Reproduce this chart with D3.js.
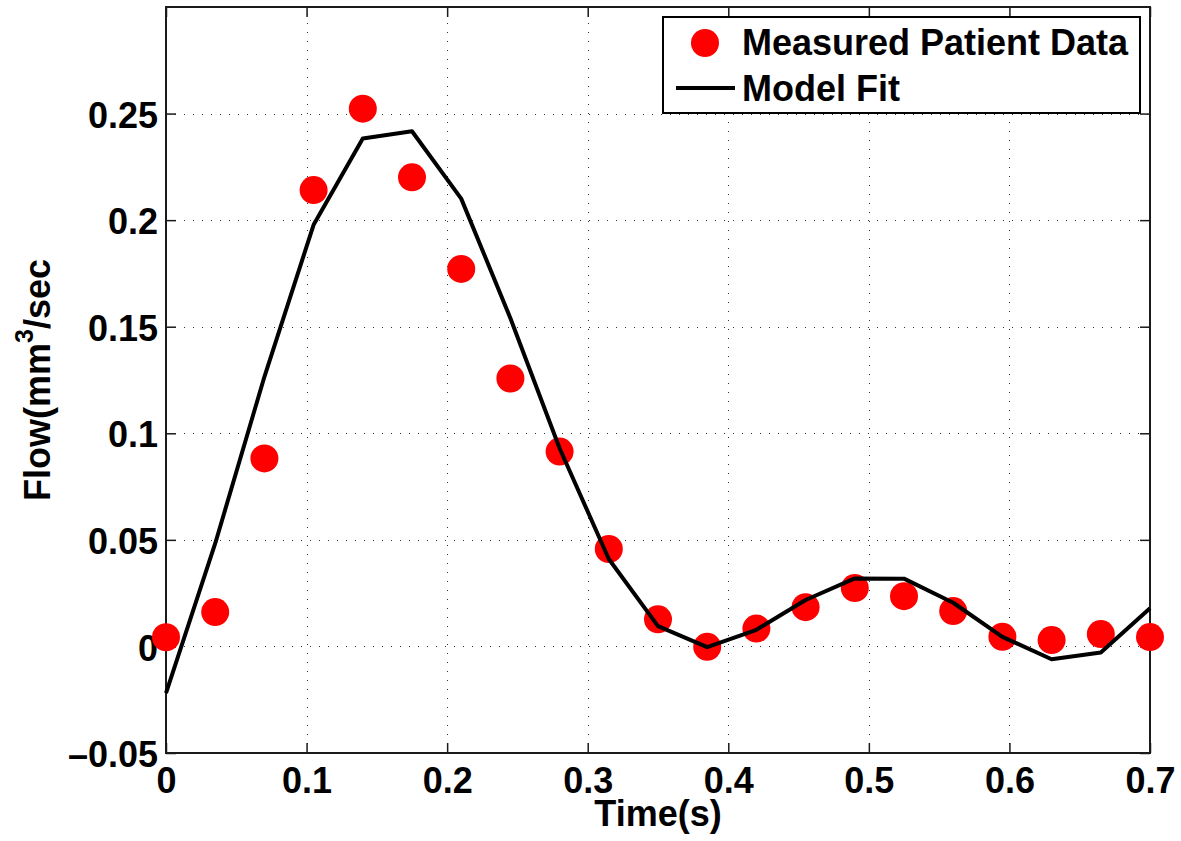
<!DOCTYPE html>
<html>
<head>
<meta charset="utf-8">
<script src="https://cdn.jsdelivr.net/npm/d3@7"></script>
<style>
  body { margin: 0; background: #fff; }
  svg { display: block; }
  text { font-family: "Liberation Sans", Arial, Helvetica, sans-serif; font-weight: bold; fill: #000; }
</style>
</head>
<body>
<div id="chart"></div>
<script>
const time = [0, 0.035, 0.07, 0.105, 0.14, 0.175, 0.21, 0.245, 0.28, 0.315, 0.35,
              0.385, 0.42, 0.455, 0.49, 0.525, 0.56, 0.595, 0.63, 0.665, 0.7];
const measured = [0.0043, 0.0161, 0.0882, 0.2141, 0.2523, 0.2201, 0.1771, 0.1257, 0.0914, 0.0457, 0.0127,
                  -0.0002, 0.0084, 0.0184, 0.0274, 0.0236, 0.0166, 0.0045, 0.0030, 0.0058, 0.0044];
const model = [-0.0219, 0.0483, 0.1265, 0.1978, 0.2383, 0.2417, 0.2101, 0.1540, 0.0930, 0.0410, 0.0095,
               -0.0003, 0.0078, 0.0218, 0.0319, 0.0318, 0.0205, 0.0045, -0.0060, -0.0028, 0.0179];

const xTicks = [0, 0.1, 0.2, 0.3, 0.4, 0.5, 0.6, 0.7];
const xTickLabels = ["0", "0.1", "0.2", "0.3", "0.4", "0.5", "0.6", "0.7"];
const yTicks = [-0.05, 0, 0.05, 0.1, 0.15, 0.2, 0.25];
const yTickLabels = ["\u20130.05", "0", "0.05", "0.1", "0.15", "0.2", "0.25"];
const legendLabels = ["Measured Patient Data", "Model Fit"];

const width = 1181;
const height = 841;
const margin = { top: 7, right: 31, bottom: 88, left: 166 };
const fontSize = 36;

const svg = d3.select("#chart")
    .append("svg")
    .attr("width", width)
    .attr("height", height);

const x = d3.scaleLinear()
    .domain([0, 0.7])
    .range([margin.left, width - margin.right]);

const y = d3.scaleLinear()
    .domain([-0.05, 0.3])
    .range([height - margin.bottom, margin.top]);

// grid
const grid = svg.append("g")
    .attr("stroke", "#333")
    .attr("stroke-width", 1)
    .attr("stroke-dasharray", "1,8");

grid.selectAll(".vgrid")
    .data(xTicks.slice(1, -1))
    .enter()
    .append("line")
    .attr("x1", d => Math.round(x(d)) + 0.5)
    .attr("x2", d => Math.round(x(d)) + 0.5)
    .attr("y1", y(-0.05))
    .attr("y2", y(0.3));

grid.selectAll(".hgrid")
    .data(yTicks.slice(1))
    .enter()
    .append("line")
    .attr("x1", x(0))
    .attr("x2", x(0.7))
    .attr("y1", d => Math.round(y(d)) + 0.5)
    .attr("y2", d => Math.round(y(d)) + 0.5);

// axes, ticks inside
function styleAxis(g) {
    g.select(".domain").remove();
    g.selectAll(".tick line").attr("stroke", "#1a1a1a").attr("stroke-width", 1.5);
    g.selectAll("text")
        .attr("font-size", fontSize)
        .attr("font-family", "'Liberation Sans', Arial, Helvetica, sans-serif")
        .attr("font-weight", "bold")
        .attr("fill", "#000");
}

svg.append("g")
    .attr("transform", `translate(${margin.left},0)`)
    .call(d3.axisLeft(y).tickValues(yTicks).tickSize(-10).tickPadding(8)
        .tickFormat((d, i) => yTickLabels[i]))
    .call(styleAxis)
    .selectAll("text")
    .attr("dy", "0.38em");

svg.append("g")
    .attr("transform", `translate(${width - margin.right},0)`)
    .call(d3.axisRight(y).tickValues(yTicks).tickSize(-10).tickFormat(""))
    .call(styleAxis);

svg.append("g")
    .attr("transform", `translate(0,${height - margin.bottom})`)
    .call(d3.axisBottom(x).tickValues(xTicks).tickSize(-10).tickPadding(14)
        .tickFormat((d, i) => xTickLabels[i]))
    .call(styleAxis);

svg.append("g")
    .attr("transform", `translate(0,${margin.top})`)
    .call(d3.axisTop(x).tickValues(xTicks).tickSize(-10).tickFormat(""))
    .call(styleAxis);

// frame
svg.append("rect")
    .attr("x", x(0))
    .attr("y", y(0.3))
    .attr("width", x(0.7) - x(0))
    .attr("height", y(-0.05) - y(0.3))
    .attr("fill", "none")
    .attr("stroke", "#1a1a1a")
    .attr("stroke-width", 2);

// measured points
svg.selectAll(".pt")
    .data(time)
    .enter()
    .append("circle")
    .attr("cx", d => x(d))
    .attr("cy", (d, i) => y(measured[i]))
    .attr("r", 14)
    .attr("fill", "#ff0000");

// model fit line
const line = d3.line()
    .x(d => x(d))
    .y((d, i) => y(model[i]));

svg.append("path")
    .datum(time)
    .attr("d", line)
    .attr("fill", "none")
    .attr("stroke", "#000")
    .attr("stroke-width", 4)
    .attr("stroke-linejoin", "round");

// axis labels
svg.append("text")
    .attr("x", (x(0) + x(0.7)) / 2)
    .attr("y", 826)
    .attr("text-anchor", "middle")
    .attr("font-size", fontSize)
    .text("Time(s)");

const yLabel = svg.append("text")
    .attr("transform", `translate(50,${(y(-0.05) + y(0.3)) / 2}) rotate(-90)`)
    .attr("text-anchor", "middle")
    .attr("font-size", fontSize);
yLabel.append("tspan").text("Flow(mm");
yLabel.append("tspan").attr("dy", -17).attr("font-size", 25).text("3");
yLabel.append("tspan").attr("dy", 17).text("/sec");

// legend
const legend = svg.append("g");
legend.append("rect")
    .attr("x", 663)
    .attr("y", 17)
    .attr("width", 477)
    .attr("height", 96)
    .attr("fill", "#fff")
    .attr("stroke", "#000")
    .attr("stroke-width", 2);

legend.append("circle")
    .attr("cx", 705)
    .attr("cy", 43)
    .attr("r", 14)
    .attr("fill", "#ff0000");

legend.append("line")
    .attr("x1", 676)
    .attr("x2", 735)
    .attr("y1", 88)
    .attr("y2", 88)
    .attr("stroke", "#000")
    .attr("stroke-width", 4);

legend.selectAll(".lbl")
    .data(legendLabels)
    .enter()
    .append("text")
    .attr("x", 742)
    .attr("y", (d, i) => i === 0 ? 55 : 101)
    .attr("font-size", fontSize)
    .text(d => d);
</script>
</body>
</html>
